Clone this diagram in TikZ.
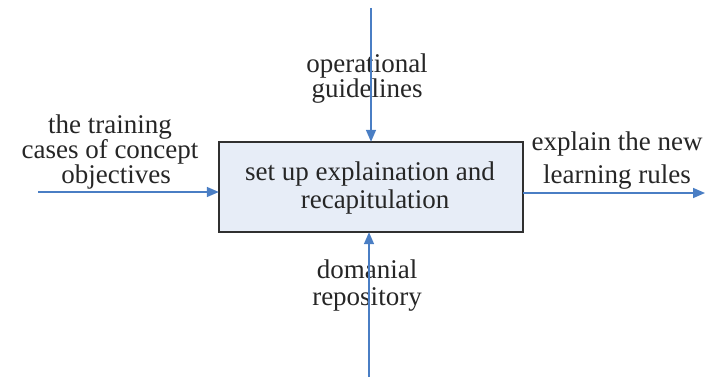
\documentclass[tikz,border=0pt]{standalone}
\usepackage{fontspec}
\setmainfont{Liberation Serif}
\usetikzlibrary{arrows.meta}
\definecolor{flowblue}{HTML}{4A7EC4}
\definecolor{boxfill}{HTML}{E7EDF7}
\definecolor{boxline}{HTML}{303030}
\begin{document}
\begin{tikzpicture}[x=1pt,y=-1pt,
  flow/.style={draw=flowblue,line width=1.6pt,-{Triangle[length=12pt,width=10pt]}},
  lbl/.style={align=center,anchor=base,inner sep=0pt,text=black!85},
  procbox/.style={draw=boxline,fill=boxfill,line width=1.4pt}]
  \useasboundingbox (0,0) rectangle (711,377);
  % process box
  \draw[procbox] (219,142) rectangle (523,232);
  \node[minimum width=304pt,minimum height=90pt,inner sep=0pt] (proc) at (371,187) {};
  % box text (base anchor sits on the last line)
  \node[lbl,font=\fontsize{27}{28}\selectfont] (ptext) at (370,208) {set up explaination and\\ \hspace*{10pt}recapitulation};
  % endpoints of the connectors
  \coordinate (inStart) at (38,192);
  \coordinate (outEnd) at (705,193);
  \coordinate (ctrlStart) at (371,8);
  \coordinate (mechStart) at (369,377);
  % labels
  \node[lbl,font=\fontsize{27}{25}\selectfont] (inLbl) at (110,183) {the training\\cases of concept\\ \hspace*{12pt}objectives};
  \node[lbl,font=\fontsize{27}{20}\selectfont] (ctrlLbl) at (367,98) {operational\\guidelines};
  \node[lbl,font=\fontsize{27}{33}\selectfont] (outLbl) at (617,183) {explain the new\\learning rules};
  \node[lbl,font=\fontsize{27}{27}\selectfont] (mechLbl) at (367,305) {domanial\\repository};
  % connectors
  \draw[flow] (inStart) -- (inStart -| proc.west);
  \draw[flow] (outEnd -| proc.east) -- (outEnd);
  \draw[flow] (ctrlStart) -- (ctrlStart |- proc.north);
  \draw[flow] (mechStart) -- (mechStart |- proc.south);
\end{tikzpicture}
\end{document}
